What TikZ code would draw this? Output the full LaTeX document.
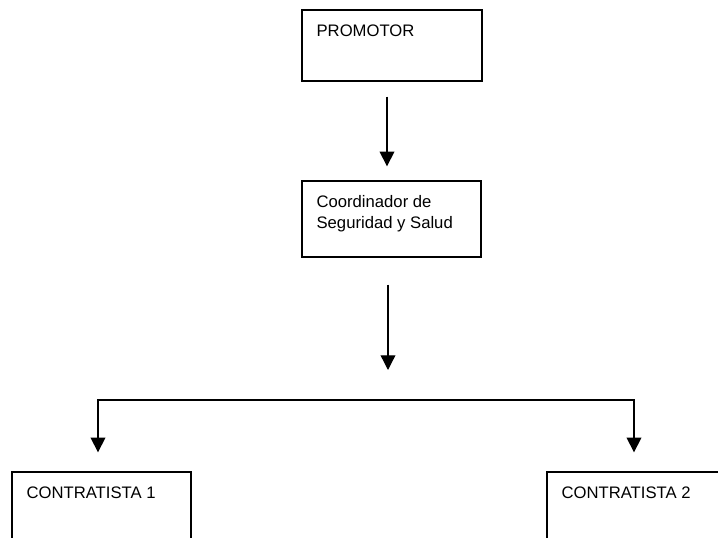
\documentclass[tikz,border=0pt]{standalone}
\usepackage{fontspec}
\setmainfont{Liberation Sans}
\usetikzlibrary{arrows.meta, positioning}

\tikzset{
  caja/.style={draw, line width=1pt, rectangle, inner sep=0pt, minimum width=134.25pt, minimum height=57pt},
  texto/.style={anchor=north west, inner sep=0pt, align=left, font=\fontsize{12.5}{15.75}\selectfont},
  flecha/.style={line width=1pt, -{Triangle[width=11pt,length=11pt]}}
}

\begin{document}
\begin{tikzpicture}[x=0.75pt,y=0.75pt,yscale=-1,xscale=1]
\clip (0,0) rectangle (718,538);

% Boxes
\node[caja, minimum width=135pt, minimum height=53.25pt] (promotor) at (392,45.5) {};
\node[caja] (coordinador) at (391.5,219) {};
\node[caja] (contratista1) at (101.5,510) {};
\node[caja] (contratista2) at (636.5,510) {};

% Text Node
\node[texto] (promotortxt) at ([shift={(15,15)}]promotor.north west) {PROMOTOR};
\node[texto] (coordinadortxt) at ([shift={(15,15)}]coordinador.north west) {Coordinador de\\Seguridad y Salud};
\node[texto] (contratista1txt) at ([shift={(15,15)}]contratista1.north west) {CONTRATISTA 1};
\node[texto] (contratista2txt) at ([shift={(15,15)}]contratista2.north west) {CONTRATISTA 2};

% Arrows
\coordinate (rama) at (388,400);
\draw[flecha, shorten <=11.25pt, shorten >=10.5pt] ([xshift=-3.75pt]promotor.south) -- ([xshift=-3.375pt]coordinador.north);
\draw[flecha, shorten <=20.25pt, shorten >=22.5pt] ([xshift=-2.625pt]coordinador.south) -- (rama);
\draw[flecha, shorten >=14.25pt] (rama) -| ([xshift=-2.625pt]contratista1.north);
\draw[flecha, shorten >=14.25pt] (rama) -| ([xshift=-1.875pt]contratista2.north);

\end{tikzpicture}
\end{document}
